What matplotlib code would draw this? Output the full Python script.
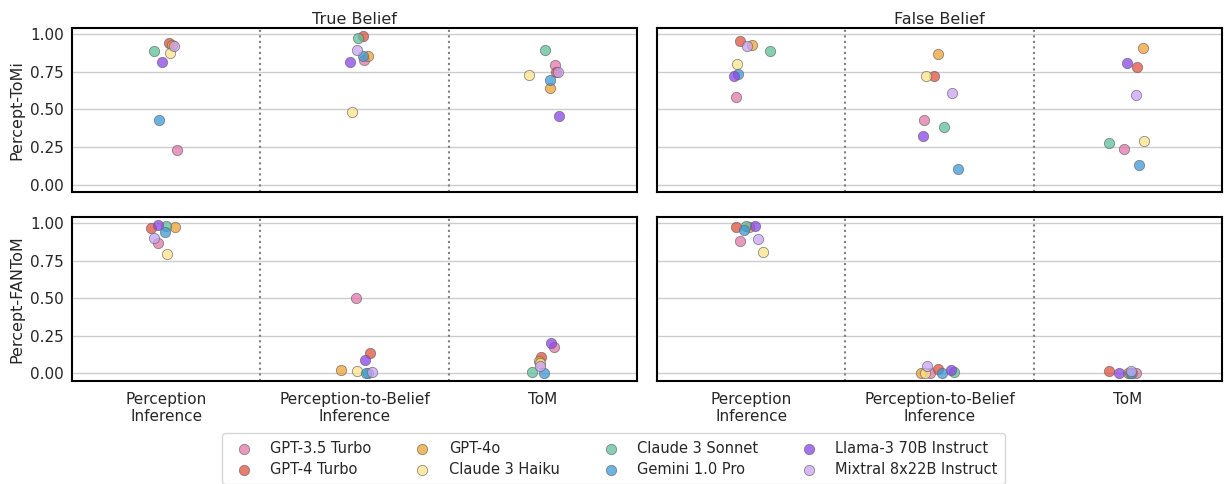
import numpy as np
import matplotlib.pyplot as plt
import seaborn as sns

sns.set_theme(style="whitegrid")

models = ['GPT-3.5 Turbo', 'GPT-4 Turbo', 'GPT-4o', 'Claude 3 Haiku',
          'Claude 3 Sonnet', 'Gemini 1.0 Pro', 'Llama-3 70B Instruct', 'Mixtral 8x22B Instruct']
colors = ['#e377a8', '#e0503f', '#f0a030', '#fde48a',
          '#5cc09a', '#3c9ad8', '#8a44e8', '#c9a3f5']
tasks = ['Perception\nInference', 'Perception-to-Belief\nInference', 'ToM']
conditions = ['True Belief', 'False Belief']
datasets = ['Percept-ToMi', 'Percept-FANToM']

# scores per task, one value per model (in models order)
tomi_true = [[.228, .940, .930, .874, .887, .427, .814, .923],
             [.825, .985, .856, .480, .971, .852, .812, .896],
             [.796, .745, .642, .730, .896, .692, .454, .745]]
tomi_false = [[.584, .951, .929, .801, .887, .737, .719, .918],
              [.431, .723, .867, .723, .385, .102, .321, .608],
              [.239, .781, .905, .290, .279, .128, .805, .597]]
fantom_true = [[.865, .965, .973, .794, .980, .938, .985, .903],
               [.504, .137, .020, .015, .005, .000, .091, .009],
               [.177, .106, .080, .070, .009, .000, .199, .049]]
fantom_false = [[.878, .973, .975, .805, .982, .951, .980, .894],
                [.000, .031, .004, .004, .009, .000, .020, .046],
                [.000, .018, .005, .000, .000, .000, .004, .015]]

# strip jitter (category units)
jit_tomi_true = [[.058, .014, .030, .019, -.066, -.037, -.025, .039],
                 [.048, .042, .073, -.012, .019, .042, -.023, .012],
                 [.066, .070, .035, -.073, .012, .037, .083, .081]]
jit_tomi_false = [[-.079, -.058, .002, -.073, .102, -.071, -.093, -.021],
                  [-.081, -.027, -.008, -.071, .023, .097, -.087, .068],
                  [-.021, .048, .079, .087, -.100, .058, -.006, .044]]
jit_fantom_true = [[-.042, -.083, .044, .004, -.002, -.004, -.046, -.064],
                   [.008, .083, -.071, .015, .070, .062, .056, .094],
                   [.058, -.010, -.021, -.015, -.060, .004, .043, -.015]]
jit_fantom_false = [[-.058, -.081, -.010, .062, -.025, -.037, .019, .037],
                    [-.050, -.010, -.098, -.079, .079, .015, .060, -.066],
                    [.041, -.098, .000, .020, .012, .015, -.046, .017]]

panels = [[(tomi_true, jit_tomi_true), (tomi_false, jit_tomi_false)],
          [(fantom_true, jit_fantom_true), (fantom_false, jit_fantom_false)]]

fig, axes = plt.subplots(2, 2, figsize=(12.27, 4.84), dpi=100, sharex=True, sharey=True)
fig.subplots_adjust(left=0.0587, right=0.996, top=0.942, bottom=0.213, hspace=0.152, wspace=0.035)

for r in range(2):
  for c in range(2):
    ax = axes[r, c]
    vals, jit = panels[r][c]
    vals = np.array(vals); jit = np.array(jit)
    for m in range(len(models)):
      x = np.arange(len(tasks)) + jit[:, m]
      ax.scatter(x, vals[:, m], s=55, color=colors[m], alpha=0.75,
                 edgecolor='#666666', linewidth=0.6, zorder=3,
                 label=models[m] if (r == 0 and c == 0) else None)
    for xv in [0.5, 1.5]:
      ax.axvline(xv, color='gray', linestyle=':', lw=1.5, zorder=1)
    ax.set_xlim(-0.5, 2.5)
    ax.set_ylim(-0.05, 1.04)
    ax.set_yticks([0, 0.25, 0.5, 0.75, 1.0])
    ax.set_yticklabels(['0.00', '0.25', '0.50', '0.75', '1.00'])
    ax.set_xticks(range(len(tasks)))
    ax.set_xticklabels(tasks, fontsize=11)
    ax.grid(axis='x', visible=False)
    ax.grid(axis='y', color='#cccccc', lw=1)
    for sp in ax.spines.values():
      sp.set_color('black'); sp.set_linewidth(1.5)
    ax.tick_params(axis='y', left=False, length=0, labelsize=11, pad=6)
    ax.tick_params(axis='x', bottom=False, pad=2)
    if r == 0:
      ax.set_title(conditions[c], fontsize=11.5, pad=3)
    if c == 0:
      ax.set_ylabel(datasets[r], fontsize=11.5, labelpad=4)

fig.legend(loc='upper center', bbox_to_anchor=(0.5, 0.12), ncol=4, fontsize=10.5,
           frameon=True, edgecolor='#cccccc', columnspacing=2.5, handletextpad=0.8,
           borderpad=0.5, labelspacing=0.45)

plt.savefig('out.png', dpi=100)
